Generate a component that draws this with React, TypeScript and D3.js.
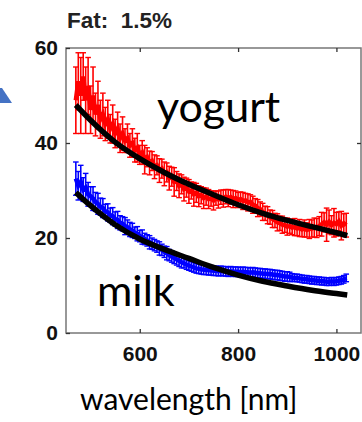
import React, { useEffect, useRef } from 'react';
import * as d3 from 'd3';

// wavelength grid of the measured spectra (nm)
const wavelengths = d3.range(470, 1021, 5);

const yogurtValues = [
  49, 53, 50, 54, 49, 52, 47, 50, 46, 48, 45,
  46, 44, 45, 43, 44, 42, 43, 41, 42, 40.5, 41,
  39.5, 40, 38.5, 39, 37.5, 38, 36.5, 37, 35.8, 36.2, 35,
  35.3, 34.2, 34.6, 33.5, 33.8, 32.6, 32.9, 31.8, 32, 31, 31.3,
  30.3, 30.6, 29.8, 30, 29.2, 29.5, 28.8, 29, 28.4, 28.7, 28.2,
  28.3, 27.9, 28.4, 28.1, 28.6, 28.3, 28.7, 28.4, 28.6, 28.2, 28.4,
  28.0, 28.2, 27.8, 27.9, 27.5, 27.6, 27.0, 26.8, 26.3, 26.1, 25.5,
  25.2, 24.8, 24.4, 24, 23.7, 23.3, 23.1, 22.8, 22.7, 22.4, 22.5,
  22.2, 22.3, 22, 22.1, 21.8, 22, 21.7, 21.9, 22, 22.2, 22.1,
  22.5, 22.9, 23.3, 22.8, 23.4, 22.7, 23.2, 22.9, 23.5, 22.6, 23.1,
  22.7,
];
const yogurtErrors = [
  7, 6, 8, 5, 7, 6, 5, 6, 4.5, 5, 4,
  4.5, 3.5, 4, 3, 4, 3, 3.5, 3, 3.5, 2.5, 3,
  2.5, 3, 2.5, 3, 2, 2.5, 3, 2, 2.5, 2, 2.5,
  2, 2.5, 2, 2.5, 2, 2.5, 2, 3, 2, 2.5, 2,
  2.5, 2, 2.5, 1.8, 2.5, 2, 2.2, 1.8, 2.2, 1.8, 2,
  1.6, 2, 1.5, 1.8, 1.5, 1.8, 1.5, 1.8, 1.5, 1.8, 1.5,
  1.6, 1.5, 1.8, 1.5, 1.8, 1.5, 1.8, 1.5, 1.8, 1.5, 1.8,
  1.5, 1.8, 1.5, 1.8, 1.5, 1.8, 1.5, 1.8, 1.5, 1.8, 1.5,
  1.5, 1.8, 1.5, 1.8, 1.5, 1.8, 1.5, 2, 1.8, 2, 2,
  2, 2.5, 2, 3.5, 2.5, 2, 3, 2.5, 2, 3, 2,
  2.5,
];

const milkValues = [
  32.5, 31, 31.8, 30.2, 30.6, 29.2, 28.8, 28.3, 27.6, 27.2, 26.6,
  26.3, 25.6, 25.4, 24.8, 24.6, 24, 23.8, 23.2, 23, 22.5, 22.3,
  21.8, 21.6, 21.1, 20.9, 20.4, 20.2, 19.8, 19.5, 19.1, 18.8, 18.5,
  18.2, 17.8, 17.5, 17.1, 16.8, 16.4, 16.1, 15.8, 15.5, 15.2, 14.9,
  14.7, 14.4, 14.2, 14, 13.8, 13.6, 13.5, 13.4, 13.3, 13.3, 13.2,
  13.2, 13.1, 13.1, 13, 13.1, 13, 13, 12.9, 13, 12.9, 12.9,
  12.9, 12.8, 12.9, 12.8, 12.8, 12.7, 12.8, 12.7, 12.6, 12.6, 12.5,
  12.5, 12.4, 12.4, 12.3, 12.2, 12.2, 12.1, 12, 11.9, 11.9, 11.8,
  11.7, 11.6, 11.6, 11.5, 11.4, 11.3, 11.3, 11.2, 11.1, 11.1, 11,
  11, 10.9, 10.9, 10.8, 10.8, 10.9, 10.8, 10.9, 11, 11.1, 11.3,
  11.6,
];
const milkErrors = [
  3.5, 3, 3.5, 2.5, 3, 2.5, 2, 2.5, 2, 2.2, 1.8,
  2, 1.5, 1.8, 1.5, 1.8, 1.5, 1.8, 1.5, 1.5, 1.8, 1.5,
  1.5, 1.5, 1.2, 1.5, 1.2, 1.5, 1.2, 1.2, 1.4, 1.2, 1.2,
  1.2, 1.4, 1.2, 1.2, 1.4, 1.2, 1.2, 1.2, 1.2, 1.2, 1.2,
  1, 1, 1, 1, 1, 1, 1, 1, 1, 1, 1,
  1, 1, 1, 1, 1, 1, 1, 1, 1, 1, 1,
  1, 1, 1, 1, 1, 1, 1, 1, 1, 1, 1,
  1, 1, 1, 1, 1, 1, 1, 1, 1, 1, 1,
  0.8, 0.8, 0.8, 0.8, 0.8, 0.8, 0.8, 0.8, 0.8, 0.8, 0.8,
  0.8, 0.8, 0.8, 0.8, 0.8, 0.8, 0.8, 0.8, 0.8, 0.8, 0.8,
  0.8,
];

// model fits
const fitWavelengths = [470, 500, 550, 600, 650, 700, 750, 800, 850, 900, 950, 1000, 1022];
const yogurtFit = [48, 44.8, 40.2, 36.7, 33.8, 31.3, 29.1, 27.0, 25.2, 23.7, 22.4, 21.1, 20.5];
const milkFit = [29.6, 26.8, 22.8, 19.8, 17.6, 15.7, 13.8, 12.2, 10.9, 9.9, 9.0, 8.3, 8.0];

const xTicks = [600, 800, 1000];
const yTicks = [0, 20, 40, 60];

export default function App() {
  const ref = useRef<SVGSVGElement>(null);

  useEffect(() => {
    draw();
  }, []);

  function draw() {
    const svg = d3.select(ref.current);
    svg.selectAll('*').remove();
    const margin = { top: 48, right: 1, bottom: 89, left: 66 };
    const width = 362;
    const height = 422;
    const x = d3.scaleLinear().domain([450, 1050]).range([margin.left, width - margin.right]);
    const y = d3.scaleLinear().domain([0, 60]).range([height - margin.bottom, margin.top]);

    // pointer shape on the left edge
    svg.append('polygon').attr('points', '0,88 2,88 12,103 0,103').attr('fill', '#4472C4');

    svg
      .append('text')
      .attr('x', 67)
      .attr('y', 28)
      .attr('font-family', 'Liberation Sans, Arial, sans-serif')
      .attr('font-weight', 'bold')
      .attr('font-size', 22.5)
      .attr('fill', '#222')
      .style('white-space', 'pre')
      .text('Fat:  1.5%');

    const series = [
      { values: yogurtValues, errors: yogurtErrors, color: '#ff0000' },
      { values: milkValues, errors: milkErrors, color: '#0000ff' },
    ];
    series.forEach((s) => {
      const g = svg.append('g');
      const pts = wavelengths.map((w, i) => ({ w, v: s.values[i], e: s.errors[i] }));
      g.selectAll('line.bar')
        .data(pts)
        .enter()
        .append('line')
        .attr('x1', (d) => x(d.w))
        .attr('x2', (d) => x(d.w))
        .attr('y1', (d) => y(d.v - d.e))
        .attr('y2', (d) => y(d.v + d.e))
        .attr('stroke', s.color)
        .attr('stroke-width', 1.6);
      [-1, 1].forEach((sign) => {
        g.selectAll('line.cap' + sign)
          .data(pts)
          .enter()
          .append('line')
          .attr('x1', (d) => x(d.w) - 2.8)
          .attr('x2', (d) => x(d.w) + 2.8)
          .attr('y1', (d) => y(d.v + sign * d.e))
          .attr('y2', (d) => y(d.v + sign * d.e))
          .attr('stroke', s.color)
          .attr('stroke-width', 1.4);
      });
      const line = d3
        .line<{ w: number; v: number }>()
        .x((d) => x(d.w))
        .y((d) => y(d.v));
      g.append('path').attr('d', line(pts)).attr('fill', 'none').attr('stroke', s.color).attr('stroke-width', 4.5);
    });

    const fitLine = d3
      .line<number>()
      .x((d, i) => x(fitWavelengths[i]))
      .y((d) => y(d))
      .curve(d3.curveMonotoneX);
    [yogurtFit, milkFit].forEach((f) => {
      svg.append('path').attr('d', fitLine(f)).attr('fill', 'none').attr('stroke', '#000').attr('stroke-width', 5.5);
    });

    // frame
    svg
      .append('rect')
      .attr('x', margin.left)
      .attr('y', margin.top)
      .attr('width', width - margin.left - margin.right)
      .attr('height', height - margin.top - margin.bottom)
      .attr('fill', 'none')
      .attr('stroke', '#777')
      .attr('stroke-width', 1.5);

    const font = 'Liberation Sans, Arial, sans-serif';
    const styleAxis = (g: any) => {
      g.select('.domain').remove();
      g.selectAll('.tick line').attr('stroke', '#333').attr('stroke-width', 1.3);
      g.selectAll('.tick text')
        .attr('font-family', font)
        .attr('font-weight', 'bold')
        .attr('font-size', 21)
        .attr('fill', '#111');
    };
    svg
      .append('g')
      .attr('transform', `translate(0,${y(0)})`)
      .call(
        d3.axisBottom(x).tickValues(xTicks).tickSizeInner(-4).tickSizeOuter(0).tickPadding(13).tickFormat(d3.format('d'))
      )
      .call(styleAxis);
    svg
      .append('g')
      .attr('transform', `translate(0,${y(60)})`)
      .call(d3.axisTop(x).tickValues(xTicks).tickSizeInner(-4).tickSizeOuter(0).tickFormat(() => ''))
      .call(styleAxis);
    svg
      .append('g')
      .attr('transform', `translate(${margin.left},0)`)
      .call(d3.axisLeft(y).tickValues(yTicks).tickSizeInner(-4).tickSizeOuter(0).tickPadding(8))
      .call(styleAxis);
    svg
      .append('g')
      .attr('transform', `translate(${width - margin.right},0)`)
      .call(d3.axisRight(y).tickValues([20, 40]).tickSizeInner(-4).tickSizeOuter(0).tickFormat(() => ''))
      .call(styleAxis);

    const labelFont = 'Lato, Carlito, sans-serif';
    const labels = [
      { text: 'yogurt', x: 157, y: 122, size: 43 },
      { text: 'milk', x: 97, y: 306, size: 43 },
      { text: 'wavelength [nm]', x: 80, y: 410, size: 30 },
    ];
    svg
      .selectAll('text.lbl')
      .data(labels)
      .enter()
      .append('text')
      .attr('class', 'lbl')
      .attr('x', (d) => d.x)
      .attr('y', (d) => d.y)
      .attr('font-family', labelFont)
      .attr('font-size', (d) => d.size)
      .attr('fill', '#000')
      .text((d) => d.text);
  }

  return (
    <svg
      ref={ref}
      width={362}
      height={422}
      style={{ position: 'fixed', left: 0, top: 0, background: '#fff' }}
    />
  );
}
